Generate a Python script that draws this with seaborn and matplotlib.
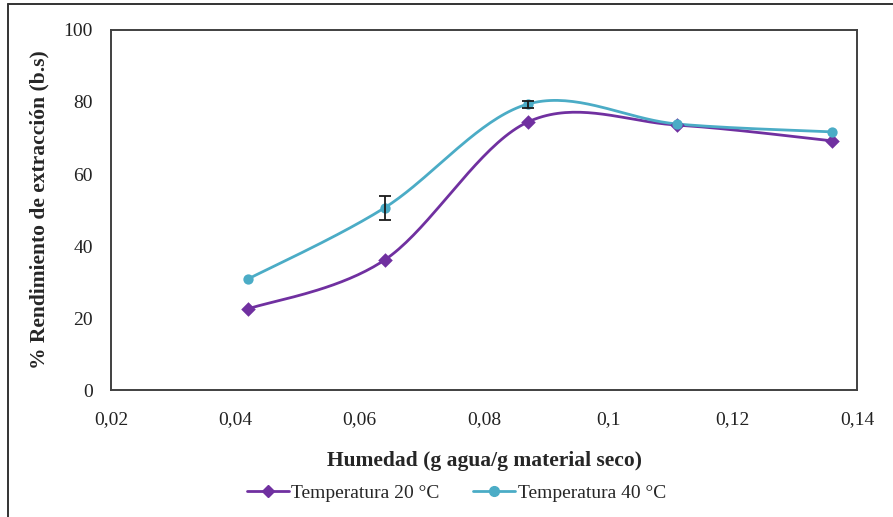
import numpy as np
import pandas as pd
import seaborn as sns
import matplotlib.pyplot as plt
from matplotlib.lines import Line2D

# Data
humedad = [0.042, 0.064, 0.087, 0.111, 0.136]
rend_20 = [22.5, 36.1, 74.4, 73.6, 69.2]
rend_40 = [30.8, 50.6, 79.4, 73.9, 71.7]
err_20 = [0, 0, 0, 0, 0]
err_40 = [0, 3.4, 1.0, 0, 0]
series = ['Temperatura 20 °C', 'Temperatura 40 °C']
colors = ['#7030A0', '#4BACC6']
markers = ['D', 'o']


def smooth(x, y, n=40):
    # Excel-style smoothed line (cubic Bezier, Catmull-Rom control points)
    p = np.column_stack([x, y]).astype(float)
    pts = np.vstack([p[0], p, p[-1]])
    out = []
    t = np.linspace(0, 1, n)[:, None]
    for i in range(1, len(pts) - 2):
        p0, p3 = pts[i], pts[i + 1]
        c1 = p0 + (pts[i + 1] - pts[i - 1]) / 6
        c2 = p3 - (pts[i + 2] - pts[i]) / 6
        seg = ((1 - t) ** 3) * p0 + 3 * ((1 - t) ** 2) * t * c1 + 3 * (1 - t) * t ** 2 * c2 + t ** 3 * p3
        out.append(seg if i == 1 else seg[1:])
    out = np.vstack(out)
    return out[:, 0], out[:, 1]


sns.set_style('white')
plt.rcParams['font.family'] = ['Liberation Serif', 'DejaVu Serif']

fig = plt.figure(figsize=(8.93, 5.17), dpi=100)
ax = fig.add_axes([0.1243, 0.2456, 0.8354, 0.6964])

for vals, errs, name, c, m in zip([rend_20, rend_40], [err_20, err_40], series, colors, markers):
    sx, sy = smooth(humedad, vals)
    curve = pd.DataFrame({'x': sx, 'y': sy})
    sns.lineplot(data=curve, x='x', y='y', sort=False, color=c, linewidth=2.0, ax=ax)
    pts = pd.DataFrame({'x': humedad, 'y': vals})
    sns.scatterplot(data=pts, x='x', y='y', marker=m, color=c, s=55, edgecolor=c,
                    linewidth=0, ax=ax, zorder=4)
    e = np.array(errs)
    mask = e > 0
    ax.errorbar(np.array(humedad)[mask], np.array(vals)[mask], yerr=e[mask], fmt='none',
                ecolor='#1a1a1a', elinewidth=1.3, capsize=4, capthick=1.3, zorder=5)

ax.set_xlim(0.02, 0.14)
ax.set_ylim(0, 100)
ax.set_xticks([0.02, 0.04, 0.06, 0.08, 0.1, 0.12, 0.14])
ax.set_xticklabels(['0,02', '0,04', '0,06', '0,08', '0,1', '0,12', '0,14'])
ax.set_yticks([0, 20, 40, 60, 80, 100])
ax.tick_params(axis='both', length=0, labelsize=14, colors='#222222')
ax.tick_params(axis='x', pad=15)
ax.tick_params(axis='y', pad=13)
for s in ax.spines.values():
    s.set_color('#404040')
    s.set_linewidth(1.4)

ax.set_xlabel('Humedad (g agua/g material seco)', fontsize=15.5, fontweight='bold', labelpad=17)
ax.set_ylabel('% Rendimiento de extracción (b.s)', fontsize=15.5, fontweight='bold', labelpad=10)

handles = [Line2D([], [], color=c, marker=m, linewidth=2, markersize=6 if m == 'D' else 7)
           for c, m in zip(colors, markers)]
fig.legend(handles, series, loc='center', bbox_to_anchor=(0.511, 0.047), ncol=2,
           frameon=False, fontsize=14, handlelength=2.15, handletextpad=0.15, columnspacing=1.7)

# outer chart border (left and top visible)
fig.add_artist(Line2D([0.009, 0.009], [0, 0.992], color='#333333', linewidth=1.4))
fig.add_artist(Line2D([0.009, 1.0], [0.992, 0.992], color='#333333', linewidth=1.4))

fig.savefig('out.png', dpi=100, facecolor='white')
